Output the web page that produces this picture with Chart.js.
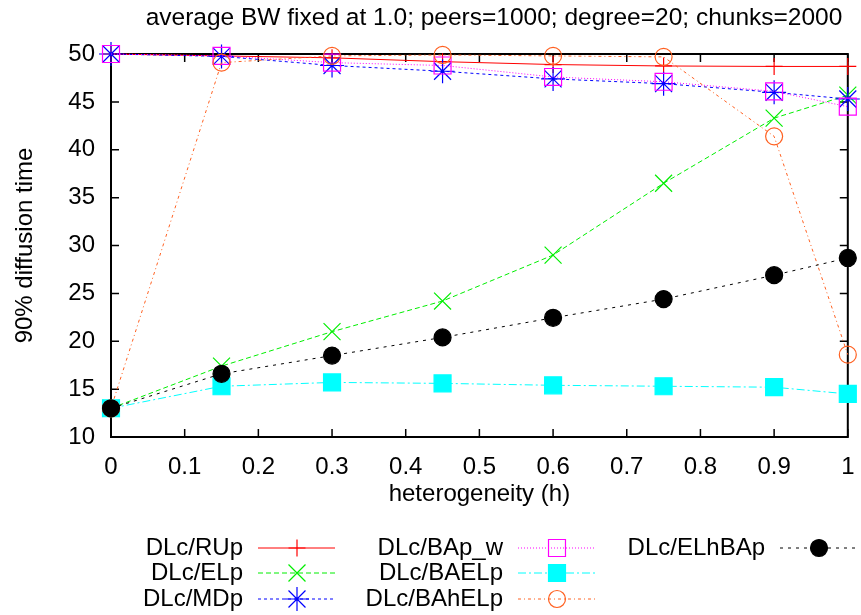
<!DOCTYPE html>
<html>
<head>
<meta charset="utf-8">
<script src="https://cdn.jsdelivr.net/npm/chart.js@4.4.1/dist/chart.umd.min.js"></script>
<style>
  html, body { margin: 0; padding: 0; background: #fff; }
  #wrap { width: 861px; height: 615px; }
</style>
</head>
<body>
<div id="wrap"><canvas id="grafico" width="861" height="615"></canvas></div>
<script>
// valores
var heterogeneidade = [0, 0.15, 0.3, 0.45, 0.6, 0.75, 0.9, 1];
var dlcRUp    = [50, 49.8, 49.6, 49.2, 48.9, 48.75, 48.7, 48.7];
var dlcELp    = [13, 17.4, 21.0, 24.2, 29.0, 36.5, 43.3, 45.7];
var dlcMDp    = [50, 49.75, 48.8, 48.2, 47.4, 46.9, 46.0, 45.3];
var dlcBApW   = [50, 49.8, 49.1, 48.8, 47.6, 47.1, 46.1, 44.5];
var dlcBAELp  = [13, 15.3, 15.7, 15.6, 15.4, 15.3, 15.2, 14.5];
var dlcBAhELp = [13, 49.1, 49.8, 49.9, 49.8, 49.7, 41.4, 18.6];
var dlcELhBAp = [13, 16.6, 18.5, 20.4, 22.45, 24.4, 26.9, 28.7];
var xTicks = [0, 0.1, 0.2, 0.3, 0.4, 0.5, 0.6, 0.7, 0.8, 0.9, 1];
var yTicks = [10, 15, 20, 25, 30, 35, 40, 45, 50];

var titulo = 'average BW fixed at 1.0; peers=1000; degree=20; chunks=2000';
var tituloX = 'heterogeneity (h)';
var tituloY = '90% diffusion time';
var fonte = '"Liberation Sans", Arial, sans-serif';

function pontos(valores) {
    return heterogeneidade.map(function(h, i) { return { x: h, y: valores[i] }; });
}

// ordem: como no gnuplot, a última série fica por cima
function serie(rotulo, valores, cor, tracejado, estilo, raio, preenchido, ordem) {
    return {
        label: rotulo,
        data: pontos(valores),
        order: ordem,
        borderColor: cor,
        backgroundColor: preenchido ? cor : 'rgba(0,0,0,0)',
        borderWidth: 1,
        borderDash: tracejado,
        pointStyle: estilo,
        pointRadius: raio,
        pointHoverRadius: raio,
        pointBorderColor: cor,
        pointBackgroundColor: preenchido ? cor : 'rgba(0,0,0,0)',
        pointBorderWidth: 1.2,
        tension: 0,
        fill: false,
        clip: false
    };
}

// desenha moldura, ticks para dentro, títulos e legenda no estilo gnuplot
var estiloGnuplot = {
    id: 'estiloGnuplot',
    beforeDatasetsDraw: function(chart) {
        var ctx = chart.ctx;
        var a = chart.chartArea;
        var sx = chart.scales.x, sy = chart.scales.y;
        ctx.save();
        ctx.strokeStyle = '#000';
        ctx.lineWidth = 1.5;
        ctx.beginPath();
        xTicks.forEach(function(v) {
            var px = sx.getPixelForValue(v);
            ctx.moveTo(px, a.bottom); ctx.lineTo(px, a.bottom - 8);
            ctx.moveTo(px, a.top); ctx.lineTo(px, a.top + 8);
        });
        yTicks.forEach(function(v) {
            var py = sy.getPixelForValue(v);
            ctx.moveTo(a.left, py); ctx.lineTo(a.left + 8, py);
            ctx.moveTo(a.right, py); ctx.lineTo(a.right - 8, py);
        });
        ctx.stroke();
        ctx.lineWidth = 2;
        ctx.strokeRect(a.left, a.top, a.right - a.left, a.bottom - a.top);

        ctx.fillStyle = '#000';
        ctx.textAlign = 'center';
        ctx.textBaseline = 'middle';
        ctx.font = '24.5px ' + fonte;
        ctx.fillText(titulo, 494, 18);
        ctx.font = '24px ' + fonte;
        ctx.fillText(tituloX, (a.left + a.right) / 2, 494);
        ctx.translate(25, (a.top + a.bottom) / 2);
        ctx.rotate(-Math.PI / 2);
        ctx.fillText(tituloY, 0, 0);
        ctx.restore();
    },
    afterDraw: function(chart) {
        var ctx = chart.ctx;
        var colunas = [243, 503, 765];
        var linhas = [548, 573, 599];
        ctx.save();
        chart.data.datasets.forEach(function(ds, i) {
            var col = colunas[Math.floor(i / 3)];
            var y = linhas[i % 3];
            ctx.fillStyle = '#000';
            ctx.font = '24px ' + fonte;
            ctx.textAlign = 'right';
            ctx.textBaseline = 'middle';
            ctx.fillText(ds.label, col, y);
            ctx.strokeStyle = ds.borderColor;
            ctx.lineWidth = ds.borderWidth;
            ctx.setLineDash(ds.borderDash);
            ctx.beginPath();
            ctx.moveTo(col + 15, y);
            ctx.lineTo(col + 92, y);
            ctx.stroke();
            ctx.setLineDash([]);
            ctx.fillStyle = ds.pointBackgroundColor;
            ctx.strokeStyle = ds.pointBorderColor;
            ctx.lineWidth = ds.pointBorderWidth;
            Chart.helpers.drawPoint(ctx, {
                pointStyle: ds.pointStyle,
                radius: ds.pointRadius,
                rotation: 0,
                borderWidth: ds.pointBorderWidth
            }, col + 54, y);
        });
        ctx.restore();
    }
};

var ctx = document.getElementById('grafico').getContext('2d');
window.meuGrafico = new Chart(ctx, {
    type: 'line',
    data: {
        datasets: [
            serie('DLc/RUp', dlcRUp, '#ff0000', [], 'cross', 8.5, false, 6),
            serie('DLc/ELp', dlcELp, '#00ee00', [5, 3], 'crossRot', 12, false, 5),
            serie('DLc/MDp', dlcMDp, '#0000ff', [3, 3], 'star', 12, false, 4),
            serie('DLc/BAp_w', dlcBApW, '#ff00ff', [1, 2], 'rect', 12, false, 3),
            serie('DLc/BAELp', dlcBAELp, '#00ffff', [8, 3, 2, 3], 'rect', 12, true, 2),
            serie('DLc/BAhELp', dlcBAhELp, '#ff6020', [3, 3, 1, 3], 'circle', 8.5, false, 1),
            serie('DLc/ELhBAp', dlcELhBAp, '#000000', [3, 5], 'circle', 8.5, true, 0)
        ]
    },
    options: {
        responsive: false,
        animation: false,
        events: [],
        layout: { padding: { left: 0, right: 11, top: 54, bottom: 0 } },
        plugins: {
            legend: { display: false },
            title: { display: false },
            tooltip: { enabled: false }
        },
        scales: {
            x: {
                type: 'linear',
                min: 0,
                max: 1,
                afterBuildTicks: function(scale) {
                    scale.ticks = xTicks.map(function(v) { return { value: v }; });
                },
                afterFit: function(scale) {
                    scale.height = 178;
                    scale.paddingLeft = 0;
                    scale.paddingRight = 0;
                },
                grid: { display: false, drawTicks: false },
                border: { display: false },
                ticks: {
                    color: '#000',
                    padding: 16,
                    maxRotation: 0,
                    autoSkip: false,
                    font: { family: fonte, size: 24 },
                    callback: function(v) { return (v === 0 || v === 1) ? String(v) : v.toFixed(1); }
                }
            },
            y: {
                type: 'linear',
                min: 10,
                max: 50,
                afterBuildTicks: function(scale) {
                    scale.ticks = yTicks.map(function(v) { return { value: v }; });
                },
                afterFit: function(scale) {
                    scale.width = 111;
                    scale.paddingTop = 0;
                    scale.paddingBottom = 0;
                },
                grid: { display: false, drawTicks: false },
                border: { display: false },
                ticks: {
                    color: '#000',
                    padding: 16,
                    font: { family: fonte, size: 24 }
                }
            }
        }
    },
    plugins: [estiloGnuplot]
});
</script>
</body>
</html>
